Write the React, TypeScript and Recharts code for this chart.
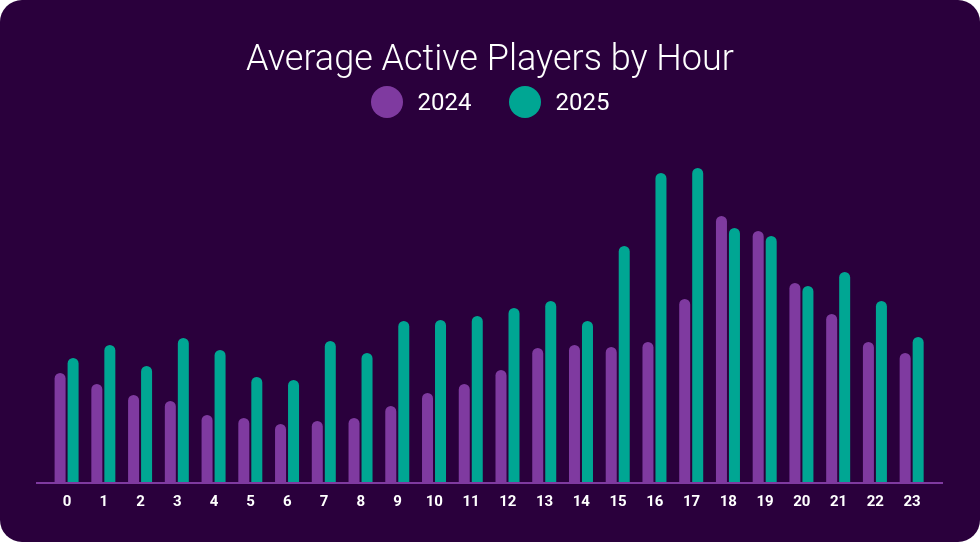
import React from "react";
import { BarChart, Bar, XAxis, YAxis } from "recharts";

const hours = ["0","1","2","3","4","5","6","7","8","9","10","11","12","13","14","15","16","17","18","19","20","21","22","23"];
const players2024 = [110, 99, 88, 82, 68, 65, 59, 62, 65, 77, 90, 99, 113, 135, 138, 136, 141, 184, 267, 252, 200, 169, 141, 130];
const players2025 = [125, 138, 117, 145, 133, 106, 103, 142, 130, 162, 163, 167, 175, 182, 162, 237, 310, 315, 255, 247, 197, 211, 182, 146];
const seriesNames = ["2024", "2025"];

const PURPLE = "#7f3aa0";
const TEAL = "#00a693";
const BG = "#2a003c";

const data = hours.map((h, i) => ({ hour: h, y2024: players2024[i], y2025: players2025[i] }));

export default function App() {
  return (
    <div
      style={{
        position: "fixed",
        left: 0,
        top: 0,
        width: 980,
        height: 542,
        background: BG,
        borderRadius: 22,
        overflow: "hidden",
        fontFamily: "Roboto, 'Noto Sans', sans-serif",
      }}
    >
      <div
        style={{
          position: "absolute",
          top: 40,
          left: 0,
          width: 980,
          textAlign: "center",
          color: "#ffffff",
          fontSize: 36,
          fontWeight: 300,
          lineHeight: "36px",
          whiteSpace: "nowrap",
        }}
      >
        Average Active Players by Hour
      </div>
      <div
        style={{
          position: "absolute",
          top: 86,
          left: 0,
          width: 980,
          display: "flex",
          justifyContent: "center",
          alignItems: "center",
          height: 32,
          color: "#ffffff",
          fontSize: 24,
          lineHeight: "32px",
        }}
      >
        {seriesNames.map((n, i) => (
          <div key={n} style={{ display: "flex", alignItems: "center", marginLeft: i === 0 ? 0 : 37 }}>
            <span
              style={{
                display: "inline-block",
                width: 32,
                height: 32,
                borderRadius: 16,
                background: i === 0 ? PURPLE : TEAL,
                marginRight: 15,
              }}
            />
            <span>{n}</span>
          </div>
        ))}
      </div>
      <div style={{ position: "absolute", left: 0, top: 0 }}>
        <BarChart
          width={980}
          height={542}
          data={data}
          margin={{ top: 163, right: 37, bottom: 29, left: 36 }}
          barSize={11}
          barGap={2}
        >
          <YAxis hide domain={[0, 320]} />
          <XAxis
            dataKey="hour"
            height={30}
            padding={{ left: 12.6, right: 12.6 }}
            axisLine={{ stroke: PURPLE, strokeWidth: 2 }}
            tickLine={false}
            tickSize={0}
            tickMargin={12}
            interval={0}
            tick={{ fill: "#ffffff", fontSize: 15, fontWeight: 700, fontFamily: "Roboto" }}
          />
          <Bar dataKey="y2024" name="2024" fill={PURPLE} radius={[5.5, 5.5, 0, 0]} isAnimationActive={false} />
          <Bar dataKey="y2025" name="2025" fill={TEAL} radius={[5.5, 5.5, 0, 0]} isAnimationActive={false} />
        </BarChart>
      </div>
    </div>
  );
}
